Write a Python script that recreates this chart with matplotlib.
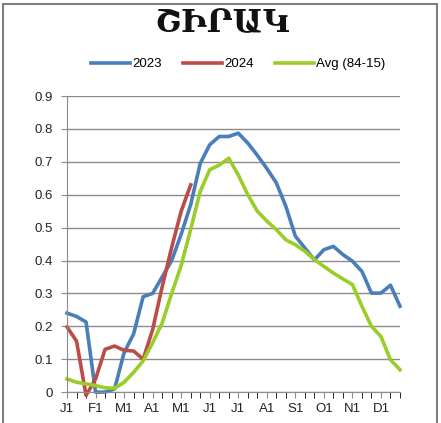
import numpy as np
import matplotlib
matplotlib.use("Agg")
import matplotlib.pyplot as plt
from matplotlib.patches import Rectangle


# =======================================
# Data (10-day periods, 3 per month)
# =======================================
month_labels = ["J1", "F1", "M1", "A1", "M1", "J1", "J1", "A1", "S1", "O1", "N1", "D1"]

y2023 = [0.24, 0.23, 0.213, 0.0, 0.0, 0.01, 0.12, 0.177, 0.29, 0.30, 0.35, 0.40,
         0.48, 0.57, 0.695, 0.752, 0.777, 0.777, 0.787, 0.757, 0.72, 0.68,
         0.636, 0.565, 0.474, 0.438, 0.402, 0.433, 0.443, 0.418, 0.398, 0.367,
         0.301, 0.301, 0.325, 0.261]

y2024 = [0.198, 0.155, -0.01, 0.04, 0.13, 0.14, 0.127, 0.125, 0.10, 0.19, 0.32,
         0.44, 0.55, 0.63]

y_avg = [0.04, 0.03, 0.025, 0.02, 0.013, 0.012, 0.03, 0.06, 0.095, 0.15, 0.21,
         0.30, 0.385, 0.495, 0.61, 0.676, 0.69, 0.711, 0.66, 0.60, 0.55, 0.52,
         0.494, 0.463, 0.448, 0.428, 0.403, 0.382, 0.362, 0.344, 0.327, 0.261,
         0.20, 0.169, 0.098, 0.068]

series_names = ["2023", "2024", "Avg (84-15)"]
colors = ["#4A7EBB", "#BE4B48", "#9ACD2A"]


# =======================================
# Plot
# =======================================
fig = plt.figure(figsize=(4.41, 4.23), dpi=100)
ax = fig.add_axes([0.152, 0.073, 0.755, 0.700])

x23 = np.arange(len(y2023))
x24 = np.arange(len(y2024))
xav = np.arange(len(y_avg))

for xs, ys, name, c in zip([x23, x24, xav], [y2023, y2024, y_avg], series_names, colors):
    ax.plot(xs, ys, color=c, lw=2.6, label=name, clip_on=False, solid_joinstyle="round")

ax.set_xlim(0, 35)
ax.set_ylim(0, 0.9)
ax.set_yticks(np.arange(0, 0.91, 0.1))
ax.set_yticklabels(["0" if v == 0 else f"{v:.1f}" for v in np.arange(0, 0.91, 0.1)])
ax.set_xticks(np.arange(0, 36, 3))
ax.set_xticklabels(month_labels)
ax.set_xticks(np.arange(0, 36), minor=True)

# gridlines / spines like excel
ax.grid(axis="y", color="#8c8c8c", lw=1)
ax.set_axisbelow(True)
for s in ["top", "right"]:
    ax.spines[s].set_visible(False)
for s in ["left", "bottom"]:
    ax.spines[s].set_color("#8c8c8c")
ax.tick_params(axis="both", colors="#8c8c8c", labelcolor="#222222", labelsize=9.5)
ax.tick_params(axis="x", which="both", length=4, direction="out")
ax.tick_params(axis="y", length=4, pad=6)
ax.tick_params(axis="x", pad=4)

for lab in ax.get_xticklabels() + ax.get_yticklabels():
    lab.set_family(["Liberation Sans", "DejaVu Sans"])

# title + legend
fig.text(0.503, 0.945, "ՇԻՐԱԿ", ha="center", va="center", fontsize=23,
         fontweight="bold", family=["DejaVu Serif", "DejaVu Sans"], color="#111111")
leg = fig.legend(loc="center", bbox_to_anchor=(0.54, 0.848), ncol=3, frameon=False,
                 handlelength=3.0, handletextpad=0.15, columnspacing=1.6,
                 prop={"family": "Liberation Sans", "size": 9.5})

# chart frame
fig.patches.append(Rectangle((3 / 441, -0.05), 434 / 441, 1.05 - 4 / 423,
                             transform=fig.transFigure, fill=False,
                             edgecolor="#7f7f7f", lw=1.5))

plt.savefig("out.png", dpi=100)
